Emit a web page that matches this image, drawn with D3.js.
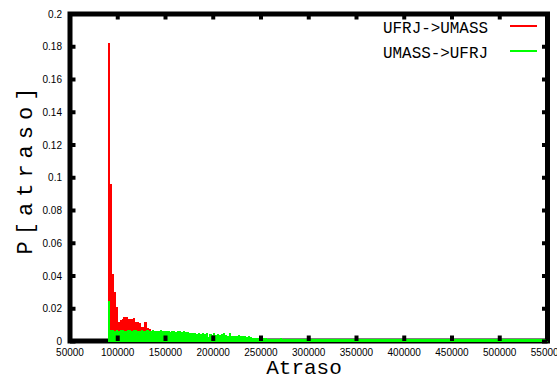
<!DOCTYPE html>
<html>
<head>
<meta charset="utf-8">
<script src="https://cdn.jsdelivr.net/npm/d3@7"></script>
<style>
  body { margin: 0; background: #fff; }
  svg { display: block; }
</style>
</head>
<body>
<svg id="chart" width="557" height="375"></svg>
<script>
const width = 557;
const height = 375;

// histogram bins: start of first bin and bin width (Atraso)
const binStart = 90000;
const binWidth = 2000;

// UFRJ->UMASS (red), one value per bin
const ufrjUmass = [
    0.182, 0.096, 0.041, 0.030, 0.021, 0.012, 0.013, 0.014, 0.015, 0.015,
    0.014, 0.014, 0.014, 0.0145, 0.012, 0.012, 0.011, 0.009, 0.009, 0.012,
    0.008, 0.0075, 0.005, 0.004, 0.0035, 0.003, 0.0032, 0.0028, 0.003, 0.0026,
    0.0025, 0.0027, 0.0024, 0.0022, 0.0025, 0.0021, 0.002, 0.0022, 0.0019, 0.002,
    0.0018, 0.0015, 0.0014, 0.0016, 0.0013, 0.0012, 0.0014, 0.0011, 0.0012, 0.001,
    0.0011, 0.0012, 0.001, 0.0009, 0.0011, 0.001, 0.0009, 0.001, 0.0008, 0.0009,
    0.0008
];

// UMASS->UFRJ (green), one value per bin
const umassUfrj = [
    0.025, 0.0068, 0.0072, 0.0066, 0.007, 0.0064, 0.0069, 0.0071, 0.0067, 0.0065,
    0.007, 0.0068, 0.0066, 0.0072, 0.0069, 0.0065, 0.0067, 0.007, 0.0066, 0.0062,
    0.0068, 0.0064, 0.0066, 0.0069, 0.0064, 0.0067, 0.0063, 0.0068, 0.0065, 0.0062,
    0.0066, 0.0064, 0.0061, 0.0065, 0.0063, 0.006, 0.0064, 0.0062, 0.0059, 0.0063,
    0.0061, 0.0058, 0.0052, 0.0049, 0.0053, 0.005, 0.0047, 0.0051, 0.0048, 0.005,
    0.0046, 0.0049, 0.003, 0.0047, 0.0042, 0.005, 0.0041, 0.0043, 0.004, 0.0044,
    0.005, 0.0039, 0.0036, 0.005, 0.0034, 0.0033, 0.0036, 0.0032, 0.0038, 0.0033,
    0.0031, 0.0034, 0.0027, 0.0036, 0.0025, 0.0024, 0.0022, 0.0023, 0.0021, 0.0022,
    0.002, 0.0021, 0.0019, 0.0018, 0.0016, 0.0017, 0.0015, 0.0018, 0.0016, 0.0017,
    0.0019, 0.0016, 0.0017, 0.0015, 0.0018, 0.0016, 0.0017, 0.0018, 0.0016, 0.0015,
    0.0017, 0.0018, 0.0016, 0.0017, 0.0016, 0.0018, 0.0017, 0.0015, 0.0016, 0.0018,
    0.0017, 0.0016, 0.0017, 0.0018, 0.0016, 0.0017, 0.0015, 0.0017, 0.0018, 0.0016,
    0.0017, 0.0016, 0.0018, 0.0017, 0.0016, 0.0017, 0.0018, 0.0016, 0.0017, 0.0015,
    0.0017, 0.0018, 0.0016, 0.0017, 0.0016, 0.0018, 0.0017, 0.0016, 0.0017, 0.0018,
    0.0016, 0.0017, 0.0016, 0.0018, 0.0017, 0.0016, 0.0017, 0.0018, 0.0016, 0.0017,
    0.0016, 0.0017, 0.0018, 0.0016, 0.0017, 0.0016, 0.0018, 0.0017, 0.0016, 0.0017,
    0.0018, 0.0016, 0.0017, 0.0016, 0.0017, 0.0018, 0.0016, 0.0017, 0.0016, 0.0018,
    0.0017, 0.0016, 0.0017, 0.0018, 0.0016, 0.0017, 0.0016, 0.0017, 0.0018, 0.0016,
    0.0017, 0.0016, 0.0018, 0.0017, 0.0016, 0.0017, 0.0018, 0.0016, 0.0017, 0.0016,
    0.0017, 0.0018, 0.0016, 0.0017, 0.0016, 0.0018, 0.0017, 0.0016, 0.0017, 0.0018,
    0.0016, 0.0017, 0.0016, 0.0017, 0.0018, 0.0016, 0.0017, 0.0016, 0.0018, 0.0017,
    0.0016, 0.0017, 0.0018, 0.0016, 0.0017, 0.0016, 0.0017, 0.0018, 0.0016, 0.0017,
    0.0016, 0.0017, 0.0018, 0.0016, 0.0017, 0.0016, 0.0017, 0.0018, 0.0016, 0.0017
];

const xTicks = [50000, 100000, 150000, 200000, 250000, 300000, 350000, 400000, 450000, 500000, 550000];
const yTicks = [0, 0.02, 0.04, 0.06, 0.08, 0.1, 0.12, 0.14, 0.16, 0.18, 0.2];

const seriesNames = ["UFRJ->UMASS", "UMASS->UFRJ"];
const seriesColors = ["#ff0000", "#00ff00"];

const svg = d3.select("#chart");

const x = d3.scaleLinear().domain([50000, 550000]).range([70, 547.5]);
const y = d3.scaleLinear().domain([0, 0.2]).range([341.5, 14]);

// THE BORDER (drawn under the bars)
svg.append("rect")
    .attr("x", x(50000))
    .attr("y", y(0.2))
    .attr("width", x(550000) - x(50000))
    .attr("height", 341 - y(0.2))
    .attr("fill", "none")
    .attr("stroke", "#000")
    .attr("stroke-width", 5);

// THE BARS
function drawBars(values, color){
    let data = values.map(function(v, i){
        return {x0: binStart + i * binWidth, x1: binStart + (i + 1) * binWidth, v: v};
    });
    svg.append("g")
        .attr("shape-rendering", "crispEdges")
        .selectAll("rect")
        .data(data)
        .enter()
        .append("rect")
            .attr("x", function(d){ return x(d.x0); })
            .attr("width", function(d){ return x(d.x1) - x(d.x0) + 0.3; })
            .attr("y", function(d){ return y(d.v); })
            .attr("height", function(d){ return y(0) - y(d.v); })
            .attr("fill", color);
}
drawBars(ufrjUmass, seriesColors[0]);
drawBars(umassUfrj, seriesColors[1]);

// THE TICKS (inside, mirrored, on top of the bars)
const ticks = svg.append("g").attr("stroke", "#000").attr("stroke-width", 4);
xTicks.forEach(function(t){
    ticks.append("line").attr("x1", x(t)).attr("x2", x(t)).attr("y1", 341).attr("y2", 335.5);
    ticks.append("line").attr("x1", x(t)).attr("x2", x(t)).attr("y1", 14).attr("y2", 19.5);
});
yTicks.forEach(function(t){
    ticks.append("line").attr("x1", 70).attr("x2", 75.5).attr("y1", y(t)).attr("y2", y(t));
    ticks.append("line").attr("x1", 547.5).attr("x2", 542).attr("y1", y(t)).attr("y2", y(t));
});

// TICK LABELS
svg.append("g")
    .selectAll("text")
    .data(xTicks)
    .enter()
    .append("text")
        .attr("x", function(d){ return x(d); })
        .attr("y", 356)
        .attr("text-anchor", "middle")
        .attr("font-family", "Liberation Sans, Arial, sans-serif")
        .attr("font-size", 10)
        .text(function(d){ return d; });

svg.append("g")
    .selectAll("text")
    .data(yTicks)
    .enter()
    .append("text")
        .attr("x", 62)
        .attr("y", function(d){ return y(d); })
        .attr("dy", "0.35em")
        .attr("text-anchor", "end")
        .attr("font-family", "Liberation Sans, Arial, sans-serif")
        .attr("font-size", 10)
        .text(function(d){ return d; });

// AXIS TITLES
svg.append("text")
    .attr("x", 304)
    .attr("y", 374)
    .attr("text-anchor", "middle")
    .attr("font-family", "Liberation Mono, monospace")
    .attr("font-size", 21)
    .text("Atraso");

svg.append("text")
    .attr("transform", "translate(32,168) rotate(-90)")
    .attr("text-anchor", "middle")
    .attr("font-family", "Liberation Mono, monospace")
    .attr("font-size", 22)
    .attr("letter-spacing", 6)
    .text("P[atraso]");

// LEGEND
seriesNames.forEach(function(name, i){
    let ly = 26 + i * 25;
    svg.append("text")
        .attr("x", 488)
        .attr("y", ly + 7)
        .attr("text-anchor", "end")
        .attr("font-family", "Liberation Mono, monospace")
        .attr("font-size", 17)
        .attr("textLength", 105)
        .attr("lengthAdjust", "spacingAndGlyphs")
        .text(name);
    svg.append("line")
        .attr("x1", 510).attr("x2", 537)
        .attr("y1", ly).attr("y2", ly)
        .attr("stroke", seriesColors[i])
        .attr("stroke-width", 2);
});
</script>
</body>
</html>
